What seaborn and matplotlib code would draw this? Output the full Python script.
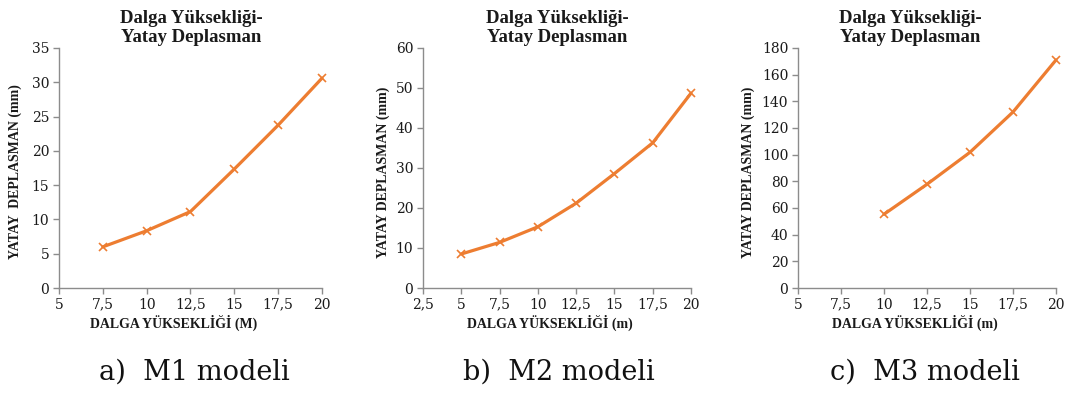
import matplotlib
matplotlib.use("Agg")
import matplotlib.pyplot as plt
import seaborn as sns
import pandas as pd
from matplotlib.ticker import FuncFormatter, MultipleLocator

# Wave height (m) and horizontal displacement (mm) for each model
m1_height = [7.5, 10, 12.5, 15, 17.5, 20]
m1_disp = [6.0, 8.35, 11.15, 17.35, 23.75, 30.6]

m2_height = [5, 7.5, 10, 12.5, 15, 17.5, 20]
m2_disp = [8.5, 11.4, 15.3, 21.2, 28.6, 36.3, 48.7]

m3_height = [10, 12.5, 15, 17.5, 20]
m3_disp = [55.3, 77.8, 101.8, 132.0, 171.0]

title = "Dalga Yüksekliği-\nYatay Deplasman"
ylabels = ["YATAY  DEPLASMAN (mm)", "YATAY DEPLASMAN (mm)", "YATAY DEPLASMAN (mm)"]
xlabels = ["DALGA YÜKSEKLİĞİ (M)", "DALGA YÜKSEKLİĞİ (m)", "DALGA YÜKSEKLİĞİ (m)"]
captions = ["a)  M1 modeli", "b)  M2 modeli", "c)  M3 modeli"]

sns.set_theme(style="white")
plt.rcParams["font.family"] = ["Liberation Serif", "DejaVu Serif"]

W, H = 1073, 397
fig = plt.figure(figsize=(W / 100, H / 100), dpi=100)

ORANGE = "#ED7D31"
SPINE = "#8C8C8C"
TEXT = "#1a1a1a"

panels = [
    dict(x=m1_height, y=m1_disp, box=(59, 322), xlim=(5, 20), ylim=(0, 35), ystep=5),
    dict(x=m2_height, y=m2_disp, box=(423, 691), xlim=(2.5, 20), ylim=(0, 60), ystep=10),
    dict(x=m3_height, y=m3_disp, box=(798, 1056), xlim=(5, 20), ylim=(0, 180), ystep=20),
]
title_x = [191, 557, 910]
ylab_x = [15, 383, 748]
xlab_x = [174, 550, 915]
caption_x = [194, 559, 925]

comma = FuncFormatter(lambda v, _: (f"{v:g}").replace(".", ","))

top_px, bottom_px = 48, 288
for i, p in enumerate(panels):
    l, r = p["box"]
    ax = fig.add_axes([l / W, 1 - bottom_px / H, (r - l) / W, (bottom_px - top_px) / H])
    df = pd.DataFrame({"h": p["x"], "d": p["y"]})
    sns.lineplot(data=df, x="h", y="d", ax=ax, color=ORANGE, linewidth=2.3,
                 marker="x", markersize=6, markeredgewidth=1.2,
                 markeredgecolor=ORANGE, clip_on=False)
    ax.set_xlim(*p["xlim"])
    ax.set_ylim(*p["ylim"])
    ax.xaxis.set_major_locator(MultipleLocator(2.5))
    ax.yaxis.set_major_locator(MultipleLocator(p["ystep"]))
    ax.xaxis.set_major_formatter(comma)
    ax.yaxis.set_major_formatter(comma)
    for s in ("top", "right"):
        ax.spines[s].set_visible(False)
    for s in ("left", "bottom"):
        ax.spines[s].set_color(SPINE)
        ax.spines[s].set_linewidth(1.0)
    ax.tick_params(axis="both", which="major", direction="out", length=4,
                   width=1.0, color=SPINE, labelsize=10, labelcolor=TEXT,
                   pad=3, left=True, bottom=True)
    for lbl in ax.get_xticklabels() + ax.get_yticklabels():
        lbl.set_family("DejaVu Serif")
    ax.set_xlabel("")
    ax.set_ylabel("")
    ax.grid(False)

    fig.text(title_x[i] / W, 1 - 28 / H, title, ha="center", va="center",
             fontsize=13.5, fontweight="bold", linespacing=1.1, color=TEXT)
    fig.text(xlab_x[i] / W, 1 - 323 / H, xlabels[i], ha="center", va="center",
             fontsize=10, fontweight="bold", color=TEXT)
    fig.text(ylab_x[i] / W, 1 - (top_px + bottom_px) / 2 / H - 0.01, ylabels[i],
             ha="center", va="center", rotation=90, fontsize=10,
             fontweight="bold", color=TEXT)
    fig.text(caption_x[i] / W, 1 - 372 / H, captions[i], ha="center", va="center",
             fontsize=19.5, color="#111111", family="DejaVu Serif")

fig.savefig("out.png", dpi=100, facecolor="white")
